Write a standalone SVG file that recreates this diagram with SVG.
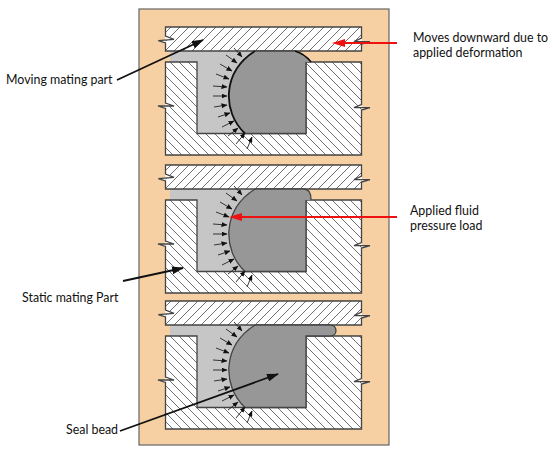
<svg xmlns="http://www.w3.org/2000/svg" xmlns:xlink="http://www.w3.org/1999/xlink" width="553" height="452" viewBox="0 0 553 452">
<style>
text{font-family:Lato,"Open Sans",sans-serif;font-size:12.400px;fill:#111}
.hu{fill:url(#hu);stroke:none}
.hd{fill:url(#hd);stroke:none}
.edge{fill:none;stroke:#444;stroke-width:1.300}
.fluid{fill:#c6c6c6}
.seal{fill:#979797}
.brk{fill:#fff;stroke:none}
.sa{stroke:#222;stroke-width:.9;marker-end:url(#sm);fill:none}
.lead{stroke:#111;stroke-width:1.800;marker-end:url(#bm);fill:none}
.red{stroke:#ee1111;stroke-width:1.800;fill:none}
.redh{fill:#ee1111}
</style>
<defs>
<pattern id="hu" width="9" height="9" patternUnits="userSpaceOnUse"><rect width="9" height="9" fill="#fff"/><path d="M-1 1L1-1M0 9L9 0M8 10L10 8" stroke="#333" stroke-width=".7"/></pattern>
<pattern id="hd" width="9" height="9" patternUnits="userSpaceOnUse"><rect width="9" height="9" fill="#fff"/><path d="M-1 8L1 10M0 0L9 9M8-1L10 1" stroke="#333" stroke-width=".7"/></pattern>
<marker id="sm" markerWidth="6" markerHeight="5" refX="5.500" refY="2.500" orient="auto" markerUnits="userSpaceOnUse"><path d="M0 0L6 2.500L0 5z" fill="#111"/></marker>
<marker id="bm" markerWidth="12" markerHeight="8" refX="11" refY="4" orient="auto" markerUnits="userSpaceOnUse"><path d="M0 0L12 4L0 8z" fill="#111"/></marker>
<g id="arrows">
<line class="sa" x1="234" y1="48" x2="242" y2="57"/>
<line class="sa" x1="226" y1="55" x2="237" y2="63"/>
<line class="sa" x1="220" y1="64" x2="232" y2="71"/>
<line class="sa" x1="216" y1="74" x2="229" y2="79"/>
<line class="sa" x1="213" y1="86" x2="227" y2="87"/>
<line class="sa" x1="213" y1="96" x2="227" y2="96"/>
<line class="sa" x1="214" y1="107" x2="227" y2="105"/>
<line class="sa" x1="218" y1="117" x2="230" y2="113"/>
<line class="sa" x1="222" y1="127" x2="234" y2="121"/>
<line class="sa" x1="228" y1="136" x2="238" y2="128"/>
<line class="sa" x1="236" y1="144" x2="245" y2="133"/>
<line class="sa" x1="247" y1="149" x2="252" y2="137"/>
</g>
<g id="frame">
<rect class="hu" x="165.500" y="27" width="196" height="24"/>
<path class="hd" d="M165.500 62H197V133.500H306V62H361.500V155H165.500Z"/>
<path class="brk" d="M165.500 36L174 39.300L158.300 40.700L165.500 43ZM361.500 38L354 41.700H370L361.500 44Z"/>
<path class="brk" d="M165.500 103L174 106H158L165.500 108.500ZM361.500 104.500L354 107.700H370L361.500 110Z"/>
<path class="edge" d="M165.500 27H361.500V38L354 41.700H370L361.500 44V51H165.500V43L158.300 40.700L174 39.300L165.500 36Z"/>
<path class="edge" d="M165.500 62H197V133.500H306V62H361.500V104.500L354 107.700H370L361.500 110V155H165.500V108.500L158 106H174L165.500 103Z"/>
</g>
</defs>
<rect x="139" y="9" width="250" height="436" fill="#f6d0a2" stroke="#666" stroke-width="1.200"/>
<g id="panel-1">
<path class="fluid" d="M170 51H260V133.500H197V62H170Z"/>
<use xlink:href="#frame" href="#frame"/>
<path class="seal" d="M306 133.500H245C222 112 222 72 255 51H295C302 53 307 57 311 62H306Z"/>
<path d="M245 133.500C222 112 222 72 255 51M295 51C302 53 307 57 311 62" fill="none" stroke="#111" stroke-width="1.800"/>
<path d="M255 51H295M245 133.500H306V62" fill="none" stroke="#444" stroke-width="1.300"/>
<use xlink:href="#arrows" href="#arrows"/>
</g>
<g id="panel-2" transform="translate(0,138)">
<path class="fluid" d="M170 51H260V133.500H197V62H170Z"/>
<use xlink:href="#frame" href="#frame"/>
<path class="seal" d="M306 133.500H245C222 112 222 72 255 51H304C309 51 311 55 311 62H306Z"/>
<path d="M245 133.500C222 112 222 72 255 51H304C309 51 311 55 311 62M245 133.500H306V62" fill="none" stroke="#444" stroke-width="1.300"/>
<use xlink:href="#arrows" href="#arrows"/>
</g>
<g id="panel-3" transform="translate(0,274)">
<path class="fluid" d="M170 51H260V133.500H197V62H170Z"/>
<use xlink:href="#frame" href="#frame"/>
<path class="seal" d="M306 133.500H245C222 112 222 72 255 51H330C338 51 338 62 330 62H306Z"/>
<path d="M245 133.500C222 112 222 72 255 51H330C338 51 338 62 330 62H306V133.500H245" fill="none" stroke="#444" stroke-width="1.300"/>
<use xlink:href="#arrows" href="#arrows"/>
</g>
<g id="connectors">
<line class="lead" x1="117" y1="80" x2="203" y2="40"/>
<line class="lead" x1="123" y1="281" x2="183" y2="268"/>
<line class="lead" x1="120" y1="431" x2="278" y2="374"/>
<line class="red" x1="397" y1="43" x2="345" y2="43"/>
<line class="red" x1="397" y1="217" x2="242" y2="217"/>
<path class="redh" d="M332 43L345 39L345 47zM229 217L242 213L242 221z"/>
</g>
<g id="label-moving"><text x="6" y="84">Moving mating part</text></g>
<g id="label-moves"><text x="413" y="42">Moves downward due to</text><text x="413" y="57">applied deformation</text></g>
<g id="label-fluid"><text x="410" y="215">Applied fluid</text><text x="410" y="230">pressure load</text></g>
<g id="label-static"><text x="22" y="302">Static mating Part</text></g>
<g id="label-seal"><text x="66" y="434">Seal bead</text></g>
</svg>
